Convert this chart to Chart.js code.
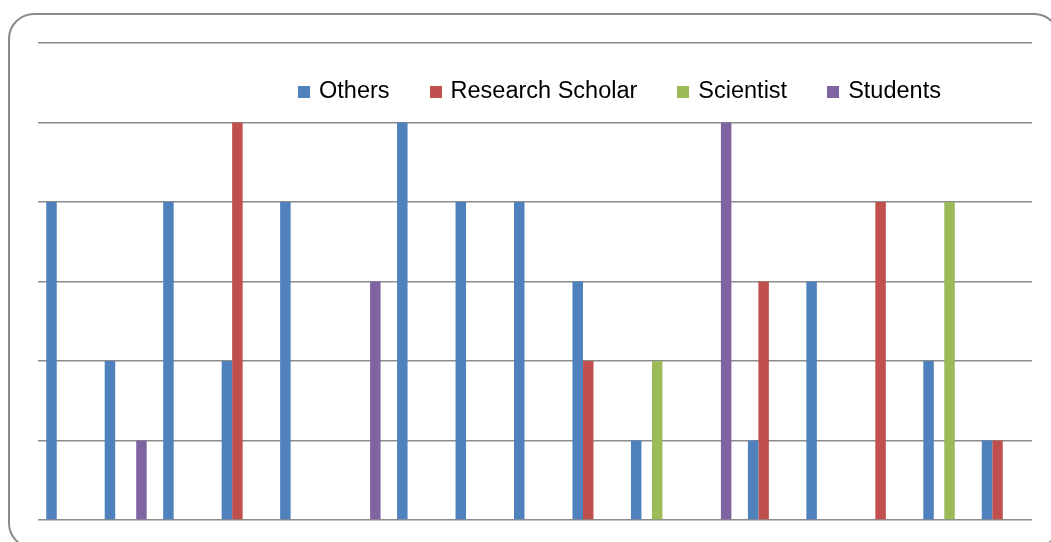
<!DOCTYPE html>
<html>
<head>
<meta charset="utf-8">
<script src="https://cdn.jsdelivr.net/npm/chart.js@4.4.0/dist/chart.umd.min.js"></script>
<style>
  html, body { margin: 0; padding: 0; background: #fff; overflow: hidden; }
  #wrap { position: relative; width: 1051px; height: 542px; }
  #frame {
    position: absolute; left: 8px; top: 13px; width: 1048px; height: 532px;
    border: 2px solid #8a8a8a; border-radius: 26px; pointer-events: none;
  }
  #legend {
    position: absolute; left: 298px; top: 77px; display: flex; align-items: center;
    font-family: "Liberation Sans", Arial, sans-serif; font-size: 23.5px; color: #000;
  }
  .item { display: flex; align-items: center; margin-right: 40px; }
  .box { width: 12px; height: 12px; margin-right: 9px; margin-top: 2px; }
  canvas { position: absolute; left: 0; top: 0; }
</style>
</head>
<body>
<div id="wrap">
  <div id="frame"></div>
  <canvas id="myChart" width="1051" height="542"></canvas>
  <div id="legend"></div>
</div>
<script>
const categories = ['1', '2', '3', '4', '5', '6', '7', '8', '9', '10', '11', '12', '13', '14', '15', '16', '17'];
const others          = [4, 2, 4, 2, 4, 0, 5, 4, 4, 3, 1, 0, 1, 3, 0, 2, 1];
const researchScholar = [0, 0, 0, 5, 0, 0, 0, 0, 0, 2, 0, 0, 3, 0, 4, 0, 1];
const scientist       = [0, 0, 0, 0, 0, 0, 0, 0, 0, 0, 2, 0, 0, 0, 0, 4, 0];
const students        = [0, 1, 0, 0, 0, 3, 0, 0, 0, 0, 0, 5, 0, 0, 0, 0, 0];

const ctx = document.getElementById('myChart');

const chart = new Chart(ctx, {
    type: 'bar',
    data: {
        labels: categories,
        datasets: [
            { label: 'Others', data: others, backgroundColor: '#4F81BD' },
            { label: 'Research Scholar', data: researchScholar, backgroundColor: '#C0504D' },
            { label: 'Scientist', data: scientist, backgroundColor: '#9BBB59' },
            { label: 'Students', data: students, backgroundColor: '#8064A2' }
        ]
    },
    options: {
        responsive: false,
        animation: false,
        datasets: {
            bar: { categoryPercentage: 0.718, barPercentage: 1, borderWidth: 0 }
        },
        layout: { padding: { left: 38, right: 19, top: 43, bottom: 22 } },
        plugins: {
            legend: { display: false },
            tooltip: { enabled: false }
        },
        scales: {
            x: { display: false },
            y: {
                min: 0,
                max: 6,
                ticks: { display: false, stepSize: 1 },
                border: { display: false },
                grid: { drawTicks: false, color: '#8c8c8c', lineWidth: 1.5 }
            }
        }
    }
});

// legend drawn as html text from the datasets
const legendEl = document.getElementById('legend');
chart.data.datasets.forEach(ds => {
    const item = document.createElement('div');
    item.className = 'item';
    const box = document.createElement('span');
    box.className = 'box';
    box.style.background = ds.backgroundColor;
    item.appendChild(box);
    item.appendChild(document.createTextNode(ds.label));
    legendEl.appendChild(item);
});
</script>
</body>
</html>
